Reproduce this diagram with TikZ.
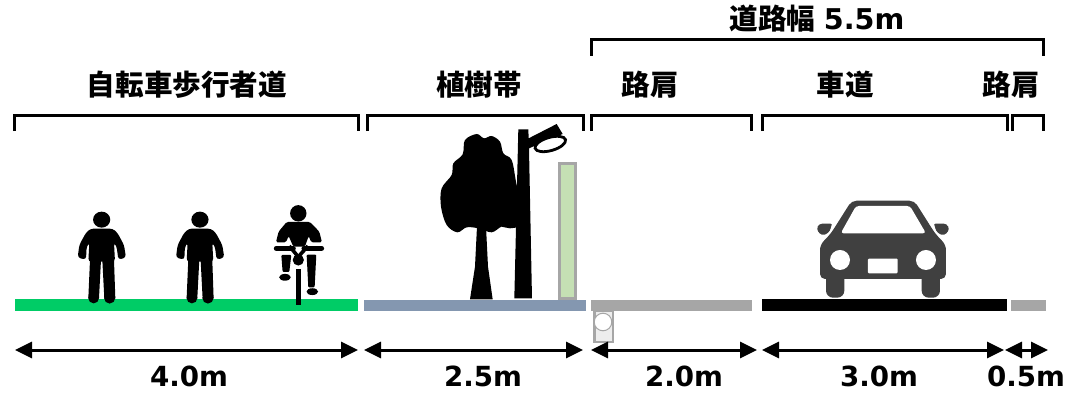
\documentclass[tikz,border=0pt]{standalone}
\usepackage{fontspec}
\setmainfont{DejaVu Sans}
\newfontfamily\cjk{Noto Sans CJK JP}
\usetikzlibrary{arrows.meta}
\definecolor{bargreen}{HTML}{00CC66}
\definecolor{barblue}{HTML}{8497B0}
\definecolor{bargray}{HTML}{A6A6A6}
\definecolor{panelgreen}{HTML}{C5E0B4}
\definecolor{curbfill}{HTML}{EDEDED}
\definecolor{cardark}{HTML}{404040}
\tikzset{
  bracketline/.style={draw=black,line width=3pt,line join=miter},
  dimline/.style={line width=3pt,{Triangle[length=17pt,width=16pt]}-{Triangle[length=17pt,width=16pt]},shorten >=0pt,shorten <=0pt},
  cjklabel/.style={font=\cjk\bfseries\fontsize{28.6}{30}\selectfont,inner sep=0pt,text=black},
  numlabel/.style={font=\bfseries\fontsize{27.7}{30}\selectfont,inner sep=0pt,text=black},
  person/.pic={
    \fill (305,89) circle[x radius=8.6pt,y radius=8pt];
    \fill[rounded corners=3pt] (272,116) -- (338,116) -- (352,128) -- (372,165) -- (378,203) -- (355,209) -- (350,170) -- (342,158) -- (345,215) -- (265,215) -- (268,158) -- (260,170) -- (258,209) -- (233,203) -- (238,165) -- (258,128) -- cycle;
    \fill (270,210) -- (303,210) -- (297,325) -- (265,325) -- cycle;
    \fill (307,210) -- (342,210) -- (346,325) -- (313,325) -- cycle;
    \fill (281,324) circle[radius=5.4pt];
    \fill (329,324) circle[radius=5.6pt];
  }
}
\begin{document}
\begin{tikzpicture}[x=1pt,y=-1pt]
\useasboundingbox (0,0) rectangle (1082,396);
\fill[white] (0,0) rectangle (1082,396);

% ground bars
\fill[bargreen] (15,299) rectangle (358,311);
\fill[barblue] (364,300) rectangle (586,311);
\fill[black] (762,299) rectangle (1007,311);
\fill[bargray] (1011,300) rectangle (1046,311);

% curb
\draw[draw=bargray,fill=curbfill,line width=2.2pt] (594.5,311) rectangle (613,342);
\draw[draw=bargray,line width=1pt,fill=white] (603,322) circle[radius=8.8pt];
\fill[bargray] (591,300) rectangle (752,311);

% people
\begin{scope}[x=0.3333pt,y=-0.3333pt,shift={(0,570)}]
  \pic {person};
  \pic[xshift=98.3pt] {person};
  % cyclist
  \fill (895,70) circle[radius=8.2pt];
  \fill[rounded corners=1.5pt] (860,96) -- (930,96) -- (958,125) -- (966,157) -- (934,157) -- (926,138) -- (915,170) -- (880,170) -- (866,138) -- (858,157) -- (828,157) -- (836,125) -- cycle;
  \draw[line width=5pt,line cap=round] (829,175) -- (880,175);
  \draw[line width=5pt,line cap=round] (912,175) -- (965,175);
  \draw[line width=3.6pt] (868,168) -- (892,197);
  \draw[line width=3.6pt] (924,168) -- (898,197);
  \fill (895,210) circle[radius=5.6pt];
  \fill (888,237) rectangle (904,344);
  \fill[rounded corners=1pt] (844,195) -- (874,195) -- (868,246) -- (848,246) -- cycle;
  \fill (855,262) circle[x radius=5.8pt,y radius=3.4pt];
  \fill[rounded corners=1pt] (920,194) -- (949,194) -- (944,292) -- (925,292) -- cycle;
  \fill (937,305) circle[x radius=5.8pt,y radius=3.4pt];
\end{scope}

% tree, lamp post
\begin{scope}[shift={(420,110)},x=0.3333pt,y=-0.3333pt]
  \fill (150,568) -- (165,470) -- (171,350) -- (198,350) -- (204,470) -- (218,568) -- cycle;
  \fill plot[smooth cycle,tension=0.55] coordinates {(170,72) (192,85) (215,78) (240,95) (250,130) (275,150) (288,215) (310,335) (270,355) (245,350) (215,367) (175,355) (140,352) (112,367) (80,345) (63,290) (65,235) (95,195) (100,160) (128,133) (135,90)};
  \fill (295,58) -- (325,58) -- (326,85) -- (410,42) -- (428,72) -- (327,115) -- (336,565) -- (283,565) -- cycle;
  \draw[line width=2.8pt,fill=white,rotate around={16:(391,102)}] (391,102) circle[x radius=15.8pt,y radius=6.6pt];
\end{scope}

% green panel
\draw[draw=bargray,fill=panelgreen,line width=3pt] (559,163) rectangle (575,298);

% car
\begin{scope}[shift={(780,180)},x=0.3333pt,y=-0.3333pt]
  \fill[cardark,rounded corners=7pt] (138,270) -- (193,270) -- (193,353) -- (138,353) -- cycle;
  \fill[cardark,rounded corners=7pt] (425,270) -- (480,270) -- (480,353) -- (425,353) -- cycle;
  \fill[cardark,rounded corners=3pt] (160,131) -- (118,131) -- (109,148) -- (125,167) -- (145,160) -- cycle;
  \fill[cardark,rounded corners=3pt] (458,131) -- (500,131) -- (509,148) -- (493,167) -- (473,160) -- cycle;
  \fill[white] (156,131) -- (147,167) -- (153,167) -- (166,131) -- cycle;
  \fill[white] (462,131) -- (471,167) -- (465,167) -- (452,131) -- cycle;
  \fill[cardark,rounded corners=5pt] (215,62) -- (403,62) -- (465,160) -- (498,195) -- (498,297) -- (120,297) -- (120,195) -- (153,160) -- cycle;
  \fill[white,rounded corners=3pt] (228,78) -- (390,78) -- (438,160) -- (182,160) -- cycle;
  \fill[white] (180,240) circle[radius=10pt];
  \fill[white] (438,240) circle[radius=10pt];
  \fill[white,rounded corners=1pt] (264,236) rectangle (353,280);
\end{scope}

% bracket coordinates
\coordinate (b1a) at (14,131); \coordinate (b1b) at (358,131);
\coordinate (b2a) at (367,131); \coordinate (b2b) at (583,131);
\coordinate (b3a) at (591,131); \coordinate (b3b) at (751,131);
\coordinate (b4a) at (762,131); \coordinate (b4b) at (1007,131);
\coordinate (b5a) at (1012,131); \coordinate (b5b) at (1043,131);
\coordinate (b6a) at (591,56); \coordinate (b6b) at (1043,56);
\draw[bracketline] (b1a) -- ++(0,-15.5) -| (b1b);
\draw[bracketline] (b2a) -- ++(0,-15.5) -| (b2b);
\draw[bracketline] (b3a) -- ++(0,-15.5) -| (b3b);
\draw[bracketline] (b4a) -- ++(0,-15.5) -| (b4b);
\draw[bracketline] (b5a) -- ++(0,-15.5) -| (b5b);
\draw[bracketline] (b6a) -- ++(0,-16) -| (b6b);

% dimension arrows
\coordinate (d1a) at (15,350); \coordinate (d1b) at (358,350);
\coordinate (d2a) at (364,350); \coordinate (d2b) at (583,350);
\coordinate (d3a) at (591,350); \coordinate (d3b) at (757,350);
\coordinate (d4a) at (762,350); \coordinate (d4b) at (1004,350);
\coordinate (d5a) at (1005,350); \coordinate (d5b) at (1048,350);
\draw[dimline] (d1a) -- (d1b);
\draw[dimline] (d2a) -- (d2b);
\draw[dimline] (d3a) -- (d3b);
\draw[dimline] (d4a) -- (d4b);
\draw[dimline] (d5a) -- (d5b);

% labels
\node[cjklabel] (l1) at (187,85) {自転車歩行者道};
\node[cjklabel] (l2) at (479,85) {植樹帯};
\node[cjklabel] (l3) at (650,85) {路肩};
\node[cjklabel] (l4) at (845,85) {車道};
\node[cjklabel] (l5) at (1011,85) {路肩};
\node[cjklabel,anchor=base] (l6) at (817,30) {道路幅\hspace{0.3em}{\normalfont\bfseries 5.5m}};
\node[numlabel,anchor=base] (n1) at (189,386) {4.0m};
\node[numlabel,anchor=base] (n2) at (483,386) {2.5m};
\node[numlabel,anchor=base] (n3) at (684,386) {2.0m};
\node[numlabel,anchor=base] (n4) at (879,386) {3.0m};
\node[numlabel,anchor=base] (n5) at (1026,386) {0.5m};
\end{tikzpicture}
\end{document}
